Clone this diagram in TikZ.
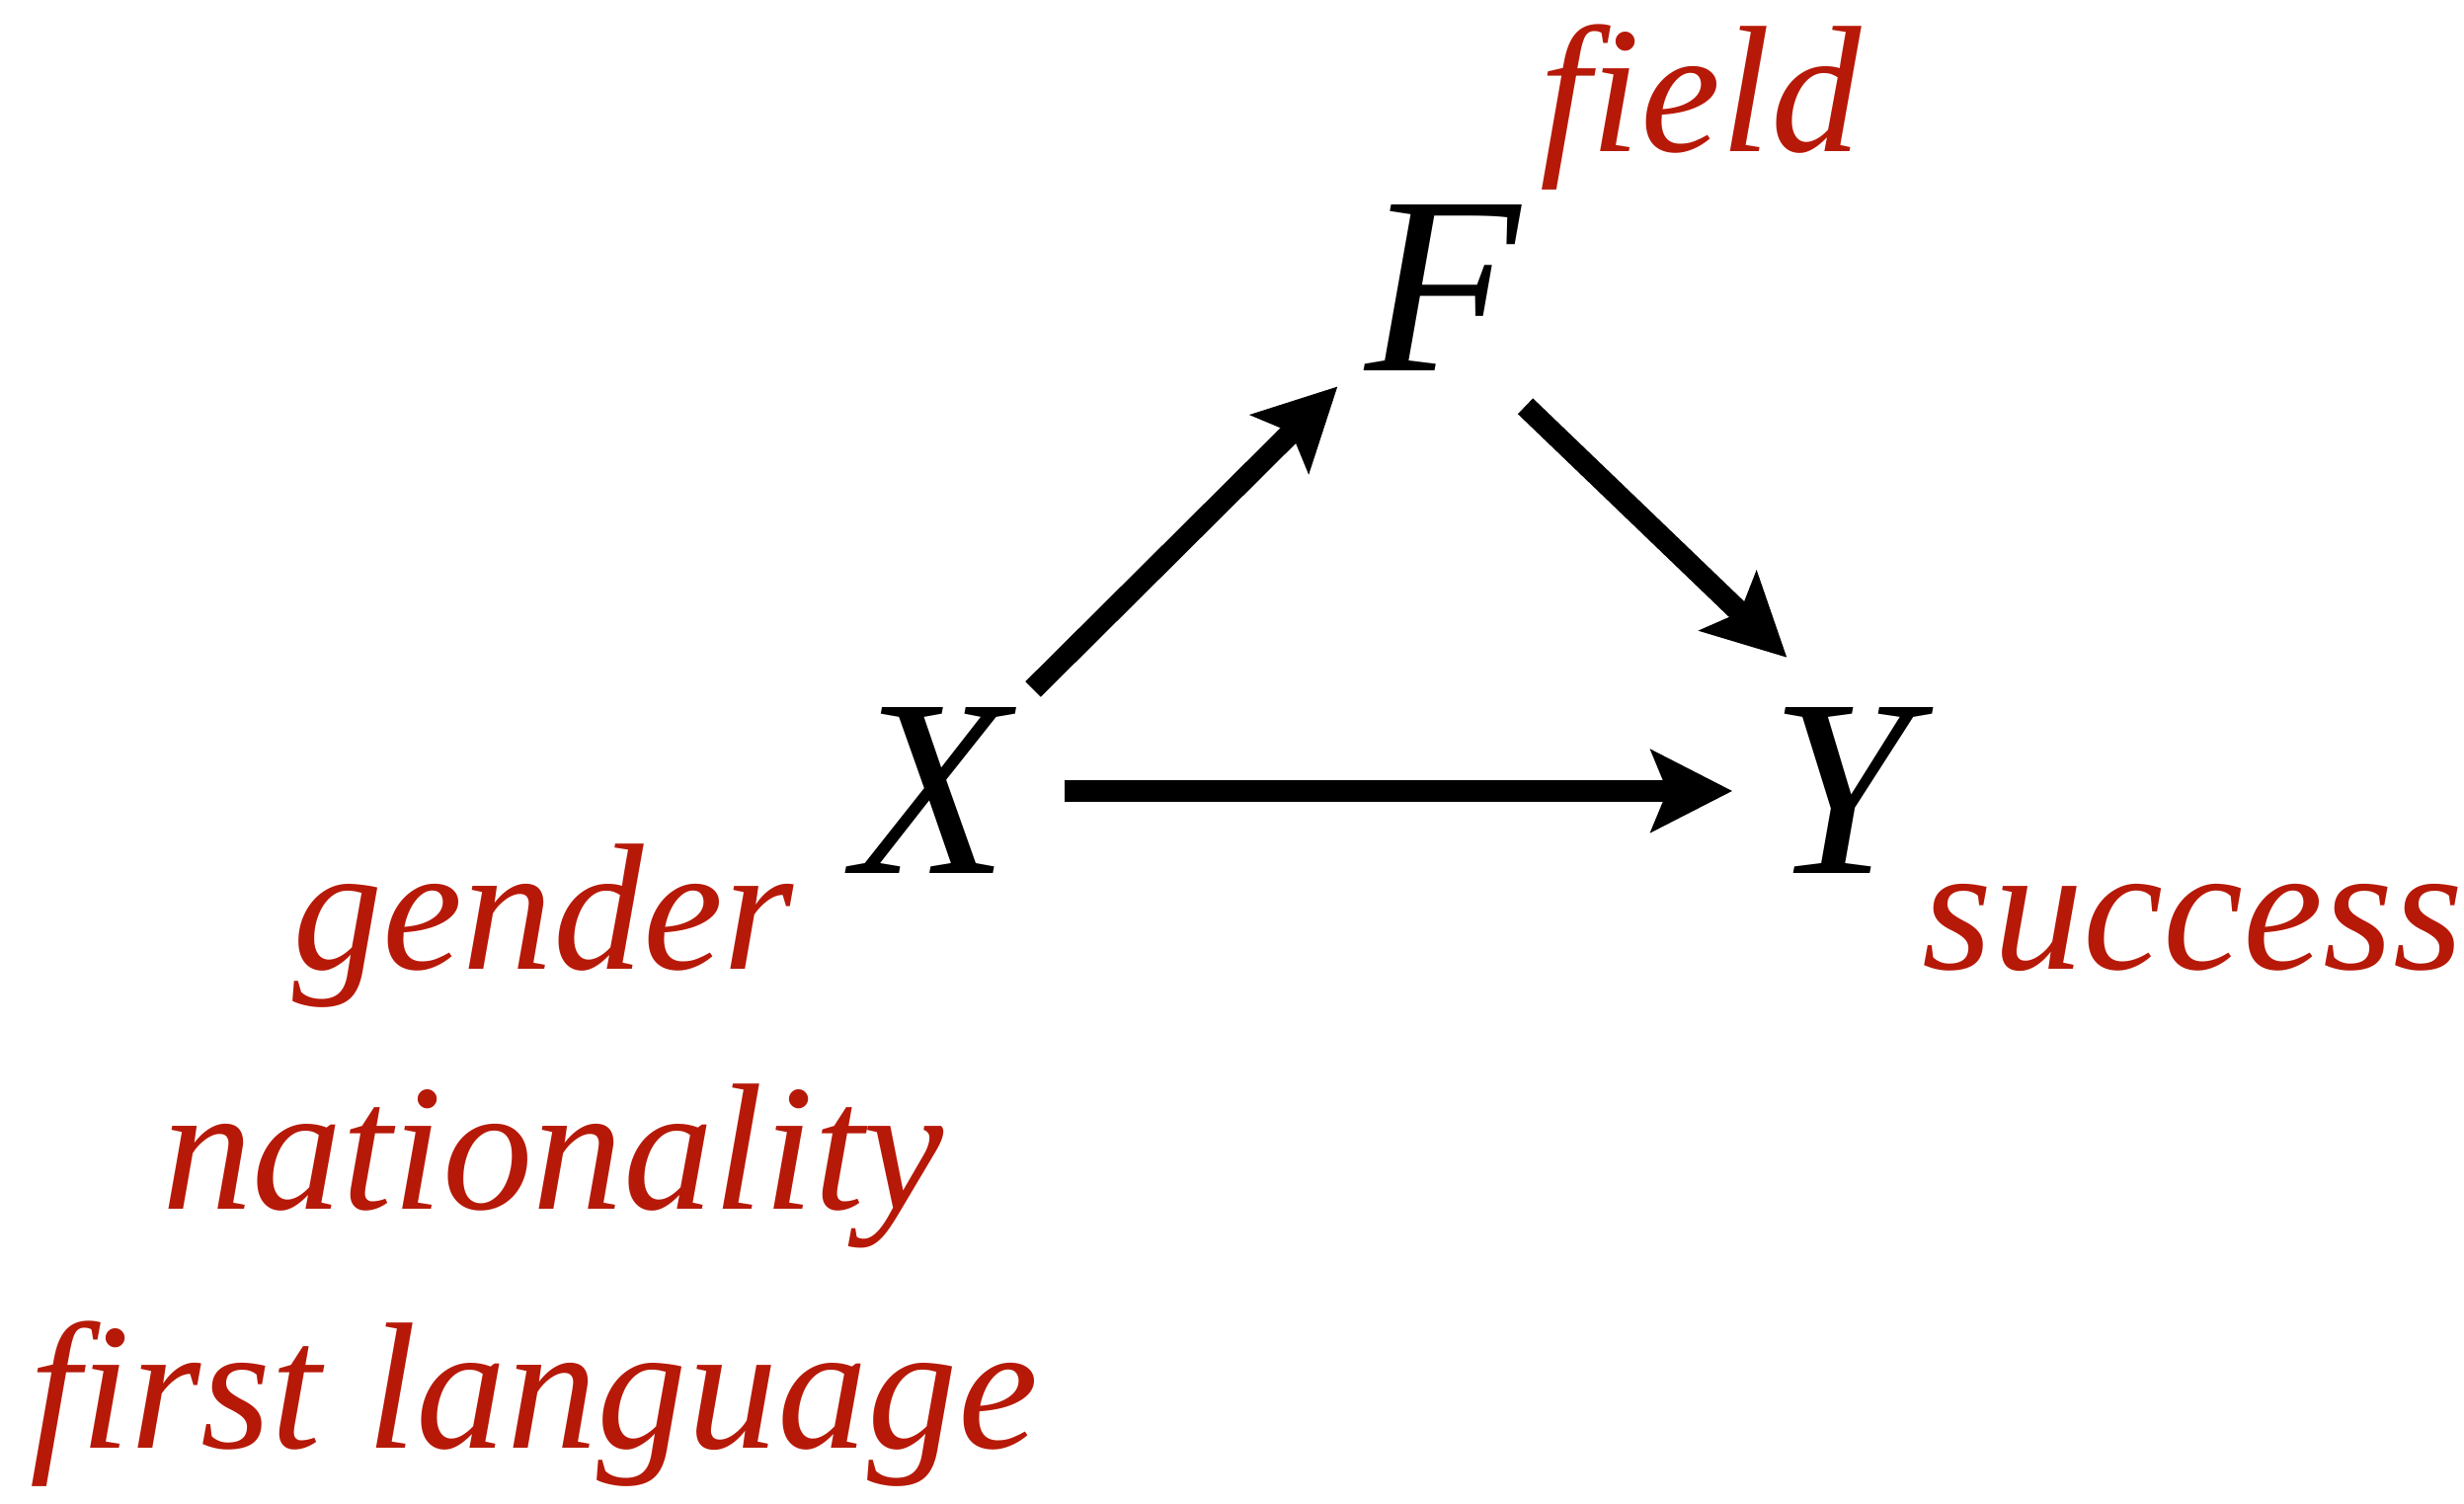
\documentclass[tikz,border=0pt]{standalone}
\usepackage{fontspec}
\setmainfont{Liberation Serif}
\usetikzlibrary{arrows.meta,positioning}
\definecolor{rust}{RGB}{183,25,8}

\tikzset{
  var/.style={circle,minimum size=29mm,inner sep=0pt,font=\fontsize{73}{80}\selectfont\itshape},
  lbl/.style={anchor=base,inner sep=0pt,text=rust,font=\fontsize{52}{60}\selectfont\itshape},
  arr/.style={-{Stealth[length=8.2mm,width=8.2mm,inset=1.6mm]},line width=2.2mm}
}

\begin{document}
\begin{tikzpicture}[x=1mm,y=1mm]
  \useasboundingbox (0,0) rectangle (249.5,152.3);

  % variables
  \node[var] (X) at (94.3,72.2) {X};
  \node[var] (F) at (146.1,123.1) {F};
  \node[var] (Y) at (186.4,72.2) {Y};

  % what they stand for
  \node[lbl] (field) at (172.2,136.9) {field};
  \node[lbl] (success) at (222.1,54.1) {success};
  \foreach \x/\y/\t [count=\i] in {55.0/54.1/gender, 56.0/29.8/nationality, 54.1/5.6/first language}
    \node[lbl] (cov\i) at (\x,\y) {\t};

  % effects
  \draw[arr] (X.45) -- (F.223);
  \draw[arr] (F.-55) -- (Y.112);
  \draw[arr,shorten <=-1.1mm,shorten >=-3.6mm] (X) -- (Y);
\end{tikzpicture}
\end{document}
